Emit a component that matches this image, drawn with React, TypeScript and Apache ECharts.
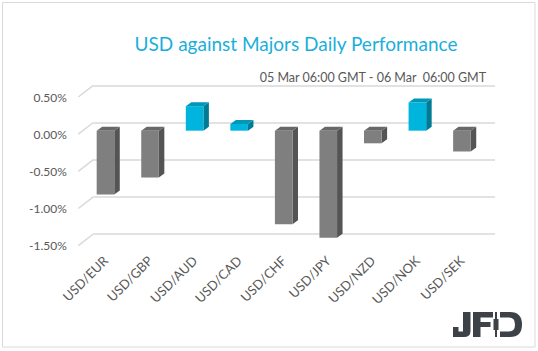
import React, { useEffect, useRef } from "react";
import * as echarts from "echarts";

const categories = ["USD/EUR", "USD/GBP", "USD/AUD", "USD/CAD", "USD/CHF", "USD/JPY", "USD/NZD", "USD/NOK", "USD/SEK"];
const values = [-0.86, -0.63, 0.33, 0.09, -1.26, -1.44, -0.17, 0.38, -0.28];
const gridTicks = [0.5, 0, -0.5, -1, -1.5];
const titleText = "USD against Majors Daily Performance";
const subtitleText = "05 Mar 06:00 GMT - 06 Mar  06:00 GMT";

const logoPath =
  "M10 0 H17.5 V19 Q17.5 25 11 25 H0 V15 H5.5 V19.5 H10 Z " +
  "M20 0 H40 V5.5 H27.5 V10 H37.5 V15 H27.5 V25 H20 Z " +
  "M42 0 H44 V7 H45.5 V18 H44 V25 H42 V18 H40.5 V7 H42 Z " +
  "M47 0 H57 Q69 0 69 12.5 Q69 25 57 25 H47 V19.5 H56 Q62 19.5 62 12.5 Q62 5.5 56 5.5 H47 Z";

echarts.graphic.registerShape("logo", echarts.graphic.extendPath(logoPath, {}));

const FONT = "Lato";
const DX = 5.5;
const DY = -4;

export default function App() {
  const ref = useRef<HTMLDivElement>(null);
  useEffect(() => {
    const chart = echarts.init(ref.current!, undefined, { renderer: "svg" });
    const fmt = (v: number) => v.toFixed(2) + "%";
    chart.setOption({
      animation: false,
      backgroundColor: "#ffffff",
      title: [
        {
          text: titleText,
          left: 291,
          top: 29,
          textAlign: "center",
          textStyle: { color: "#1aafdb", fontSize: 19, fontWeight: "normal", fontFamily: FONT },
        },
        {
          text: subtitleText,
          right: 46,
          top: 66,
          textStyle: { color: "#595959", fontSize: 12.5, fontWeight: "normal", fontFamily: FONT },
        },
      ],
      graphic: [
        {
          type: "rect",
          z: -10,
          silent: true,
          shape: { x: 2.5, y: 2.5, width: 532.5, height: 344.5 },
          style: { fill: "#ffffff", stroke: "#d9d9d9", lineWidth: 1 },
        },
        {
          type: "logo",
          x: 453,
          y: 312,
          scaleX: 1,
          scaleY: 1,
          style: { fill: "#3d4249" },
        },
      ],
      grid: [
        { left: 78.3, top: 97, width: 20, height: 148.7, containLabel: false },
        { left: 93.3, top: 85.3, right: 43, height: 148.7, containLabel: false },
        { left: 83.2, top: 93.5, right: 53.8, height: 148.7, containLabel: false },
      ],
      xAxis: [
        { type: "value", gridIndex: 0, min: 0, max: 1, show: false },
        { type: "value", gridIndex: 1, min: 0, max: 1, show: false },
        {
          type: "category",
          gridIndex: 2,
          data: categories,
          axisLine: { show: false },
          axisTick: { show: false },
          axisLabel: {
            rotate: 45,
            margin: 16,
            interval: 0,
            color: "#595959",
            fontSize: 13,
            fontFamily: FONT,
          },
        },
      ],
      yAxis: [
        {
          type: "value",
          gridIndex: 0,
          min: -1.5,
          max: 0.5,
          interval: 0.5,
          axisLine: { show: false },
          axisTick: { show: false },
          splitLine: { show: false },
          axisLabel: { margin: 11.5, color: "#595959", fontSize: 12, fontFamily: FONT, formatter: fmt },
        },
        {
          type: "value",
          gridIndex: 1,
          min: -1.5,
          max: 0.5,
          interval: 0.5,
          axisLine: { show: false },
          axisTick: { show: false },
          axisLabel: { show: false },
          splitLine: { show: true, lineStyle: { color: "#d9d9d9", width: 1.5 } },
        },
        {
          type: "value",
          gridIndex: 2,
          min: -1.5,
          max: 0.5,
          interval: 0.5,
          show: false,
          splitLine: { show: false },
        },
      ],
      series: [
        {
          type: "custom",
          xAxisIndex: 0,
          yAxisIndex: 0,
          data: gridTicks.map((v) => [0, v]),
          silent: true,
          renderItem: (params: any, api: any) => {
            const p = api.coord([0, api.value(1)]);
            return {
              type: "line",
              shape: { x1: p[0], y1: p[1], x2: p[0] + 15, y2: p[1] - 11.7 },
              style: { stroke: "#d9d9d9", lineWidth: 1.5 },
            };
          },
        },
        {
          type: "custom",
          xAxisIndex: 2,
          yAxisIndex: 2,
          data: values.map((v, i) => [i, v]),
          renderItem: (params: any, api: any) => {
            const idx = api.value(0);
            const v = api.value(1);
            const top = api.coord([idx, v]);
            const base = api.coord([idx, 0]);
            const w = api.size([1, 0])[0] * 0.395;
            const x0 = top[0] - w / 2;
            const x1 = x0 + w;
            const yT = Math.min(top[1], base[1]);
            const yB = Math.max(top[1], base[1]);
            const pos = v > 0;
            const front = pos ? "#00b5dd" : "#7f7f7f";
            const side = pos ? "#007b96" : "#545454";
            const topC = pos ? "#0097b8" : "#686868";
            return {
              type: "group",
              children: [
                {
                  type: "polygon",
                  shape: { points: [[x1, yT], [x1 + DX, yT + DY], [x1 + DX, yB + DY], [x1, yB]] },
                  style: { fill: side },
                },
                {
                  type: "polygon",
                  shape: { points: [[x0, yT], [x1, yT], [x1 + DX, yT + DY], [x0 + DX, yT + DY]] },
                  style: { fill: topC },
                },
                {
                  type: "rect",
                  shape: { x: x0, y: yT, width: w, height: yB - yT },
                  style: { fill: front },
                },
              ],
            };
          },
        },
      ],
    });
    return () => chart.dispose();
  }, []);
  return (
    <div
      ref={ref}
      style={{ position: "fixed", left: 0, top: 0, width: 538, height: 351 }}
    />
  );
}
